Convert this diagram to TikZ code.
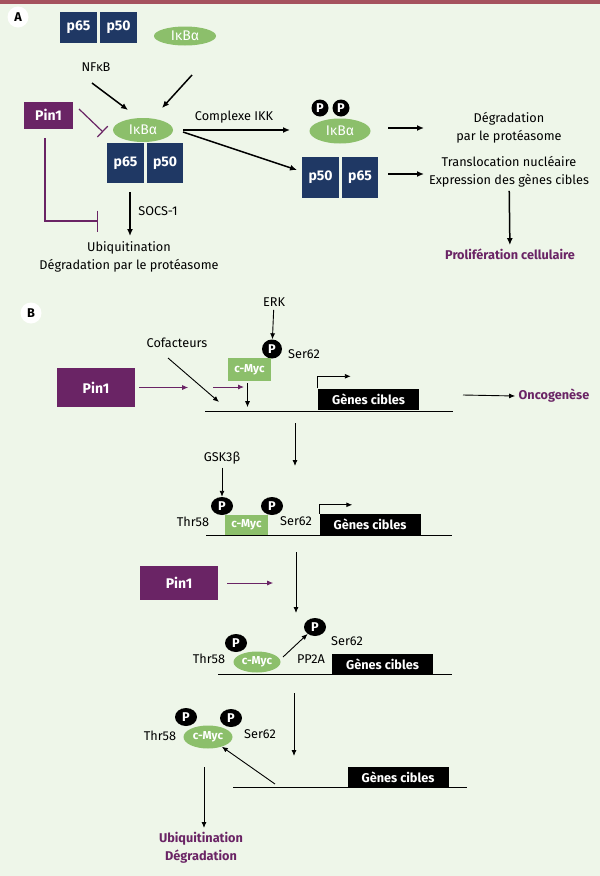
\documentclass[tikz,border=0pt]{standalone}
\usepackage{fontspec}
\setmainfont{Fira Sans}
\usetikzlibrary{arrows.meta,shapes.geometric}
\definecolor{navy}{HTML}{1F3864}
\definecolor{leaf}{HTML}{8CBF6B}
\definecolor{plum}{HTML}{6A2465}
\definecolor{paper}{HTML}{EEF6E9}
\definecolor{rim}{HTML}{A5525E}
\newcommand{\txt}{\fontsize{12.7}{18}\selectfont}
\newcommand{\boxtxt}{\fontsize{14}{16}\selectfont}
\begin{document}
\begin{tikzpicture}[x=1pt,y=-1pt,every node/.style={font=\txt},
  sub/.style={fill=navy,text=white,font=\boxtxt\bfseries,inner sep=0},
  ikb/.style={ellipse,fill=leaf,text=white,font=\boxtxt,inner sep=0},
  phos/.style={ellipse,fill=black,text=white,font=\txt\bfseries,inner sep=0,minimum width=22,minimum height=18},
  pin/.style={fill=plum,text=white,font=\boxtxt\bfseries,inner sep=0},
  gene/.style={fill=black,text=white,font=\txt\bfseries,inner sep=0,minimum width=101,minimum height=21},
  myc/.style={fill=leaf,text=white,font=\fontsize{11.5}{13}\selectfont\bfseries,inner sep=0},
  outcome/.style={text=plum,font=\txt\bfseries,align=center},
  panel/.style={circle,fill=white,minimum size=21,inner sep=0,font=\txt\bfseries},
  arr/.style={-{Latex[length=7,width=6]},line width=1.5},
  arrb/.style={-{Latex[length=6,width=5]},line width=0.9},
  parr/.style={-{Latex[length=6,width=5]},line width=0.9,plum},
  blunt/.style={-{Bar[width=15]},line width=1.2,plum}]
\fill[paper] (0,0) rectangle (600,876);
\fill[rim] (0,0) rectangle (600,4);
\useasboundingbox (0,0) rectangle (600,876);

\node[panel] (lblA) at (18,17){A};
\node[sub,minimum width=37,minimum height=31] (a65) at (78.5,27.5){p65};
\node[sub,minimum width=37,minimum height=31] (a50) at (118.5,27.5){p50};
\node (nfkb) at (96,67){NFκB};
\node[ikb,minimum width=62,minimum height=19] (ikb1) at (185,36){IκBα};
\node[pin,minimum width=49,minimum height=27] (pina) at (48.5,115){Pin1};
\node[ikb,minimum width=60,minimum height=24] (ikb2) at (143,130){IκBα};
\node[sub,minimum width=37,minimum height=40] (b65) at (125.5,163){p65};
\node[sub,minimum width=36,minimum height=40] (b50) at (165,163){p50};
\node (socs) at (158,211){SOCS-1};
\node[align=center] (ubqa) at (129,257){Ubiquitination\\Dégradation par le protéasome};
\node (ikk) at (234,117){Complexe IKK};
\node[phos,minimum width=17,minimum height=17] (pa1) at (320,108){P};
\node[phos,minimum width=17,minimum height=17] (pa2) at (341,108){P};
\node[ikb,minimum width=61,minimum height=25] (ikb3) at (340,131){IκBα};
\node[sub,minimum width=37,minimum height=41] (c50) at (320.5,177.5){p50};
\node[sub,minimum width=36,minimum height=41] (c65) at (360,177.5){p65};
\node[align=center] (proteo) at (509,128){Dégradation\\par le protéasome};
\node[align=center] (transl) at (509,172){Translocation nucléaire\\Expression des gènes cibles};
\node[outcome] (prolif) at (510,254){Prolifération cellulaire};

\coordinate (n1) at (92,83);   \coordinate (n2) at (128,110);
\coordinate (i1) at (192,75);  \coordinate (i2) at (162,108);
\coordinate (k1) at (183,130); \coordinate (k2) at (290,130);
\coordinate (k3) at (183,132); \coordinate (k4) at (297,170);
\coordinate (d1) at (388,128); \coordinate (d2) at (424,128);
\coordinate (t1) at (388,174); \coordinate (t2) at (424,174);
\coordinate (s1) at (130,192); \coordinate (s2) at (130,236);
\coordinate (q1) at (79,109);  \coordinate (q2) at (103,132);
\coordinate (r1) at (45,138);  \coordinate (r2) at (98,221);
\foreach \from/\to in {n1/n2,i1/i2,k1/k2,k3/k4,d1/d2,t1/t2,s1/s2}
  \draw[arr] (\from) -- (\to);
\draw[arr] (transl) -- (prolif);
\draw[blunt] (q1) -- (q2);
\draw[blunt,-{Bar[width=21]}] (r1) |- (r2);

\node[panel] (lblB) at (31,313){B};
\node (erk) at (274,302){ERK};
\node[phos,minimum width=20,minimum height=19] (pb1) at (272,349){P};
\node (ser1) at (304,354){Ser62};
\node (cof) at (177,343){Cofacteurs};
\node[myc,minimum width=43,minimum height=23] (myc1) at (249.5,369.5){c-Myc};
\node[pin,minimum width=78,minimum height=39] (pinb1) at (96,387.5){Pin1};
\node[gene] (gb1) at (368.5,399){Gènes cibles};
\node[outcome] (onco) at (554,396){Oncogenèse};
\coordinate (dna1a) at (205,411); \coordinate (dna1b) at (453,411);
\draw[line width=0.9] (dna1a) -- (dna1b);
\draw[arrb] (erk) -- (pb1);
\draw[parr] ([xshift=4]pinb1.east) -- ++(49,0);
\draw[parr] (213,387) -- (244,387);
\draw[arrb] (168,358) -- (219,402);
\draw[arrb] (myc1.south) ++(-2,2) -- ++(0,24);
\draw[arrb] (gb1.north west) |- ++(33,-12);
\draw[arrb] (463,395) -- (onco.west);
\draw[arrb] (295,423) -- (295,466);

\node (gsk) at (222,458){GSK3β};
\node[phos] (pb2) at (222,506){P};
\node[phos] (pb3) at (272,506){P};
\node (thr1) at (193,522){Thr58};
\node[myc,minimum width=43,minimum height=20] (myc2) at (246.5,525){c-Myc};
\node (ser2) at (296,521){Ser62};
\node[gene] (gb2) at (370,524.5){Gènes cibles};
\draw[line width=0.9] (206,535) -- (452,535);
\draw[arrb] (gsk) -- (pb2);
\draw[arrb] (gb2.north west) |- ++(33,-9);
\draw[arrb] (296,552) -- (296,613);

\node[pin,minimum width=78,minimum height=34] (pinb2) at (179,583){Pin1};
\node[phos] (pb4) at (315,627){P};
\node (ser3) at (347,641){Ser62};
\node[phos] (pb5) at (236,643){P};
\node (thr2) at (209,659){Thr58};
\node[myc,ellipse,minimum width=47,minimum height=21] (myc3) at (257,662){c-Myc};
\node (pp2a) at (311,659){PP2A};
\node[gene,minimum height=20] (gb3) at (382.5,664){Gènes cibles};
\draw[line width=0.9] (218,674) -- (452,674);
\draw[parr] ([xshift=9]pinb2.east) -- ++(46,0);
\draw[arrb] (283,657) -- (pb4);
\draw[arrb] (294,693) -- (294,756);

\node[phos] (pb6) at (186,717){P};
\node[phos] (pb7) at (231,718){P};
\node (thr3) at (160,736){Thr58};
\node[myc,ellipse,minimum width=49,minimum height=23] (myc4) at (208,737){c-Myc};
\node (ser4) at (260,734){Ser62};
\node[gene,minimum height=20] (gb4) at (398,777){Gènes cibles};
\node[outcome] (ubqb) at (201,848){Ubiquitination\\Dégradation};
\coordinate (dna4a) at (233,787); \coordinate (dna4b) at (467,787);
\draw[line width=0.9] (dna4a) -- (dna4b);
\draw[arrb] (275,784) -- (myc4);
\draw[arrb] (204,767) -- (204,828);
\end{tikzpicture}
\end{document}
